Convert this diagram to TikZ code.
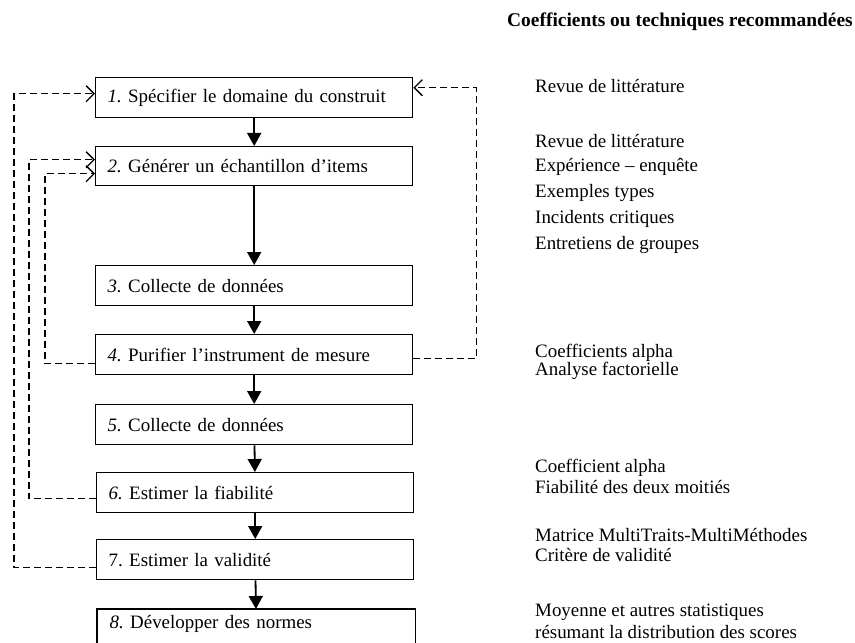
\documentclass[tikz,border=0pt]{standalone}
\usepackage{fontspec}
\setmainfont{Liberation Serif}
\usetikzlibrary{arrows.meta,calc}
\frenchspacing
\begin{document}
\begin{tikzpicture}[x=1bp,y=-1bp,
  box/.style={draw, line width=1.4bp, anchor=north west, minimum width=317bp,
    minimum height=40bp, inner xsep=12bp, inner ysep=0pt, text width=293bp,
    align=left, font=\fontsize{19}{22}\selectfont},
  flow/.style={line width=1.8bp, -{Triangle[width=14bp,length=13bp]}},
  fb/.style={line width=1.3bp, dash pattern=on 7bp off 4bp,
    -{Straight Barb[length=8bp,width=16bp,line width=1.3bp]}},
  note/.style={anchor=west, inner sep=0pt, font=\fontsize{19}{22}\selectfont}
]
\useasboundingbox (0,0) rectangle (855,643);
\clip (0,0) rectangle (855,643);

% boxes
\node[box] (b1) at (95,77)  {\textit{1.} Spécifier le domaine du construit};
\node[box, minimum height=39bp] (b2) at (95,146) {\textit{2.} Générer un échantillon d’items};
\node[box] (b3) at (95,265) {\textit{3.} Collecte de données};
\node[box] (b4) at (95,334) {\textit{4.} Purifier l’instrument de mesure};
\node[box] (b5) at (95,404) {\textit{5.} Collecte de données};
\node[box] (b6) at (96,472) {\textit{6.} Estimer la fiabilité};
\node[box] (b7) at (96,539) {7. Estimer la validité};
\node[box, draw=none, minimum height=28bp] (b8) at (97,609) {\textit{8.} Développer des normes};
\draw[line width=1.4bp] ([yshift=-30bp]b8.south west) -- (b8.north west)
  -- (b8.north east) -- ([yshift=-30bp]b8.south east);

% main flow
\draw[flow] (b1) -- (b2);
\draw[flow] (b2) -- (b3);
\draw[flow] (b3) -- (b4);
\draw[flow] (b4) -- (b5);
\draw[flow] (b5) -- (b6);
\draw[flow] (b6) -- (b7);
\draw[flow] (b7) -- (b8);

% feedback loops
\draw[fb] ([yshift=-8bp]b7.west) -- ++(-82,0) |- ([yshift=4bp]b1.west);
\draw[fb] ([yshift=-6bp]b6.west) -- ++(-67,0) |- ([yshift=6.5bp]b2.west);
\draw[fb] ([yshift=-9bp]b4.west) -- ++(-50,0) |- ([yshift=-7.5bp]b2.west);
\draw[fb] ([yshift=-4bp]b4.east) -- ++(63,0) |- ([yshift=10bp]b1.east);

% right column
\node[anchor=west, inner sep=0pt, font=\fontsize{19.5}{22}\selectfont\bfseries] (hd) at (507,22)
  {Coefficients ou techniques recommandées};
\node[note] (r1) at (535,86) {Revue de littérature};
\node[note] (r2a) at (535,141) {Revue de littérature};
\node[note] (r2b) at (535,167) {Expérience -- enquête};
\node[note] (r2c) at (535,193) {Exemples types};
\node[note] (r2d) at (535,219) {Incidents critiques};
\node[note] (r2e) at (535,245) {Entretiens de groupes};
\node[note] (r4a) at (535,353) {Coefficients alpha};
\node[note] (r4b) at (535,371) {Analyse factorielle};
\node[note] (r6a) at (535,468) {Coefficient alpha};
\node[note] (r6b) at (535,487) {Fiabilité des deux moitiés};
\node[note] (r7a) at (535,535) {Matrice MultiTraits-MultiMéthodes};
\node[note] (r7b) at (535,555) {Critère de validité};
\node[note] (r8a) at (535,612) {Moyenne et autres statistiques};
\node[note] (r8b) at (535,632) {résumant la distribution des scores};
\end{tikzpicture}
\end{document}
